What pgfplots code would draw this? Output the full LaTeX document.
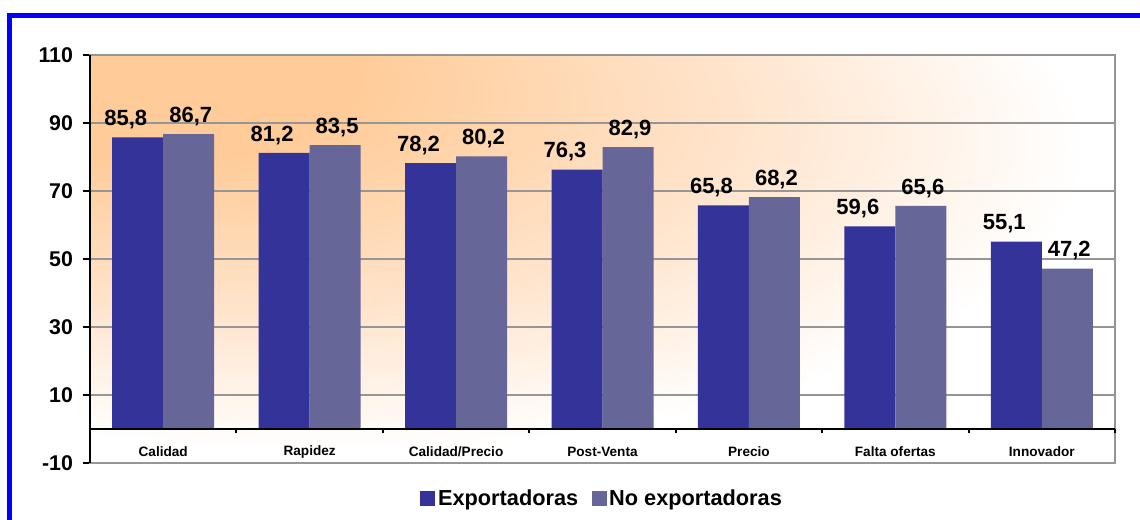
\documentclass[border=0pt]{standalone}
\usepackage{fontspec}
\setmainfont{Liberation Sans}
\usepackage{pgfplots}
\pgfplotsset{compat=1.18}
\definecolor{expc}{RGB}{51,51,153}
\definecolor{noexpc}{RGB}{102,102,153}
\definecolor{orng}{RGB}{255,204,153}
\definecolor{orngmid}{RGB}{255,228,204}
\definecolor{grd}{RGB}{150,150,150}
\definecolor{frameblue}{RGB}{0,0,255}
\pgfdeclareradialshading{bgshade}{\pgfpoint{-25bp}{25bp}}{color(0bp)=(orng); color(10bp)=(orng); color(24bp)=(orngmid); color(37bp)=(white); color(80bp)=(white)}
\begin{document}
\begin{tikzpicture}
\begin{axis}[
  at={(67.5pt,42.75pt)}, anchor=south west,
  scale only axis, width=768.75pt, height=306pt,
  ybar=0pt, bar width=38.25pt,
  xmin=-0.5, xmax=6.5, ymin=-10, ymax=110,
  xtick={0,...,6},
  xticklabels={Calidad,Rapidez,Calidad/Precio,Post-Venta,Precio,Falta ofertas,Innovador},
  ytick={-10,10,30,50,70,90,110},
  ytick pos=left,
  tick align=outside,
  major x tick style={draw=none},
  ytick style={black, line width=1.5pt},
  major tick length=5.25pt,
  ymajorgrids, major grid style={grd, line width=1.5pt},
  axis line style={grd, line width=1.5pt},
  axis background/.style={shading=bgshade},
  /pgf/number format/assume math mode=true,
  yticklabel style={font=\bfseries\fontsize{16}{18}\selectfont, xshift=-4pt},
  xticklabel style={font=\bfseries\fontsize{10.2}{12}\selectfont, anchor=center, yshift=13.5pt},
  legend style={at={(0.5,-0.087)}, anchor=center, draw=none, fill=none,
    legend columns=2, font=\bfseries\fontsize{16.3}{18}\selectfont,
    /tikz/every even column/.append style={column sep=8pt}},
  legend image code/.code={\fill[#1] (0pt,-5.6pt) rectangle (11.25pt,5.6pt);},
  nodes near coords={\pgfmathprintnumber[fixed,fixed zerofill,precision=1,use comma]{\pgfplotspointmeta}},
  every node near coord/.append style={font=\bfseries\fontsize{16.5}{18}\selectfont, inner sep=1pt, yshift=5pt},
  clip=false,
]
\addplot[fill=expc, draw=none, every node near coord/.append style={xshift=-9pt}] coordinates {
  (0,85.8) (1,81.2) (2,78.2) (3,76.3) (4,65.8) (5,59.6) (6,55.1)};
\addplot[fill=noexpc, draw=none, every node near coord/.append style={xshift=1.5pt}] coordinates {
  (0,86.7) (1,83.5) (2,80.2) (3,82.9) (4,68.2) (5,65.6) (6,47.2)};
\legend{Exportadoras, No exportadoras}
\draw[black, line width=1.5pt] (rel axis cs:0,0) -- (rel axis cs:0,1);
\draw[black, line width=1.5pt] (axis cs:-0.5,0) -- (axis cs:6.5,0);
\pgfplotsinvokeforeach{0.5,1.5,2.5,3.5,4.5,5.5,6.5}{
  \draw[black, line width=1.5pt] (axis cs:#1,0) -- ([yshift=-3pt]axis cs:#1,0);
}
\end{axis}
\draw[frameblue, line width=3.75pt] (7.35pt,-5pt) -- (7.35pt,378.15pt) -- (870pt,378.15pt);
\pgfresetboundingbox
\useasboundingbox (0,0) rectangle (855pt,390pt);
\end{tikzpicture}
\end{document}
